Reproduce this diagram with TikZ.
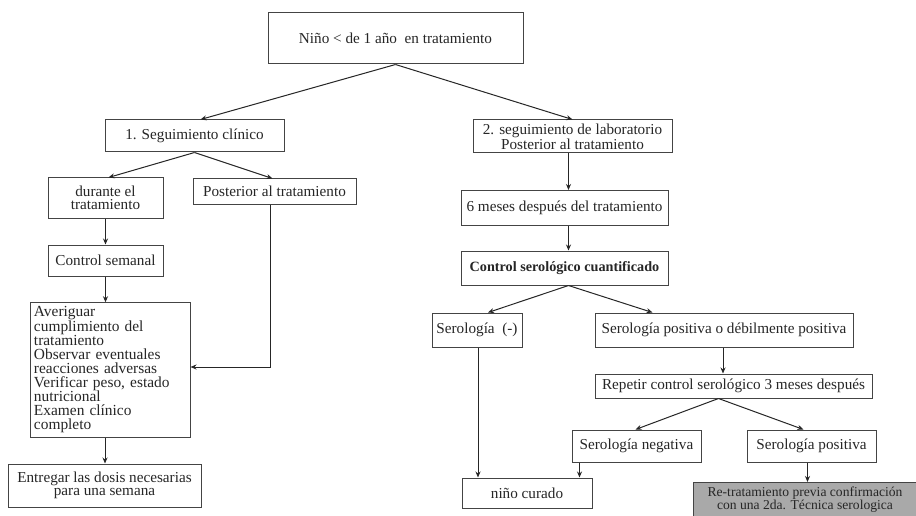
\documentclass[tikz,border=0pt]{standalone}
\usepackage{fontspec}
\setmainfont{Liberation Serif}
\usetikzlibrary{arrows.meta}
\definecolor{ink}{HTML}{262626}
\definecolor{boxline}{HTML}{444444}
\definecolor{grayfill}{HTML}{A9A9A9}
\begin{document}
\begin{tikzpicture}[x=1pt,y=-1pt,
  every node/.style={font=\fontsize{15.2}{13.5}\selectfont, text=ink},
  box/.style={draw=boxline, line width=1pt, rectangle, inner sep=3pt, align=center},
  arr/.style={draw=ink, line width=1pt, -{Stealth[length=6pt,width=5pt]}}]
\clip (0,0) rectangle (916,516);
\fill[white] (0,0) rectangle (916,516);
% left branch
\node[box, minimum width=255pt, minimum height=51pt] (top) at (395.5,38.5) {Niño < de 1 año \ en tratamiento};
\node[box, minimum width=179pt, minimum height=32pt] (clin) at (194.5,136) {1. Seguimiento clínico};
\node[box, minimum width=115pt, minimum height=40pt] (dur) at (105.5,198) {durante el\\tratamiento};
\node[box, minimum width=163pt, minimum height=25pt] (post) at (274.5,191.5) {Posterior al tratamiento};
\node[box, minimum width=115pt, minimum height=31pt] (sem) at (105.5,260.5) {Control semanal};
\node[box, align=left, text width=152pt, inner sep=4pt, minimum height=134pt, font=\fontsize{15.4}{14}\selectfont] (big) at (110,370) {Averiguar\\cumplimiento del\\tratamiento\\Observar eventuales\\reacciones adversas\\Verificar peso, estado\\nutricional\\Examen clínico\\completo};
\node[box, minimum width=193pt, minimum height=43pt] (ent) at (104.5,485.5) {Entregar las dosis necesarias\\para una semana};
% right branch
\node[box, minimum width=199pt, minimum height=33pt, font=\fontsize{15.2}{13}\selectfont] (lab) at (572.5,136.5) {2. seguimiento de laboratorio\\Posterior al tratamiento};
\node[box, minimum width=207pt, minimum height=35pt] (mes) at (564.5,208) {6 meses después del tratamiento};
\node[box, minimum width=207pt, minimum height=34pt, font=\fontsize{14.2}{13.5}\selectfont\bfseries] (ctrl) at (564.5,268) {Control serológico cuantificado};
\node[box, minimum width=90pt, minimum height=34pt] (smin) at (477,330) {Serología \ (-)};
\node[box, minimum width=258pt, minimum height=34pt] (spd) at (724,330) {Serología positiva o débilmente positiva};
\node[box, minimum width=277pt, minimum height=24pt] (rep) at (733.5,386) {Repetir control serológico 3 meses después};
\node[box, minimum width=129pt, minimum height=32pt] (sneg) at (636.5,446) {Serología negativa};
\node[box, minimum width=129pt, minimum height=32pt] (spos) at (811.5,446) {Serología positiva};
\node[box, minimum width=130pt, minimum height=30pt] (cur) at (527,493) {niño curado};
\node[box, fill=grayfill, minimum width=230pt, minimum height=40pt, anchor=north west] (ret) at (693,482) {};
\node[font=\fontsize{13.6}{12}\selectfont, align=center] (rettext) at (805,499.5) {Re-tratamiento previa confirmación\\con una 2da. Técnica serologica};
% connectors
\draw[arr] (top.south) -- ([xshift=6pt]clin.north);
\draw[arr] (top.south) -- (lab.north);
\draw[arr] (clin.south) -- ([xshift=3pt]dur.north);
\draw[arr] (clin.south) -- ([xshift=-2pt]post.north);
\draw[arr] (dur.south) -- (sem.north);
\draw[arr] (sem.south) -- (sem.south |- big.north);
\draw[arr] ([xshift=-4pt]post.south) |- ([yshift=3pt]big.east);
\draw[arr] ([xshift=-5pt]big.south) -- ([xshift=-5pt]big.south |- ent.north);
\draw[arr] ([xshift=-4pt]lab.south) -- ([xshift=-4pt]lab.south |- mes.north);
\draw[arr] ([xshift=4pt]mes.south) -- ([xshift=4pt]mes.south |- ctrl.north);
\draw[arr] ([xshift=4pt]ctrl.south) -- ([xshift=11pt]smin.north);
\draw[arr] ([xshift=4pt]ctrl.south) -- ([xshift=58pt]spd.north west);
\draw[arr] ([xshift=-1pt]spd.south) -- ([xshift=-1pt]spd.south |- rep.north);
\draw[arr] ([xshift=-15pt]rep.south) -- ([xshift=-1pt]sneg.north);
\draw[arr] ([xshift=-15pt]rep.south) -- ([xshift=-8pt]spos.north);
\draw[arr] ([xshift=1pt]smin.south) -- ([xshift=1pt]smin.south |- cur.north);
\draw[arr] ([xshift=8pt]sneg.south west) -- ([xshift=8pt]sneg.south west |- cur.north);
\draw[arr] ([xshift=-4pt]spos.south) -- ([xshift=-4pt]spos.south |- ret.north);
\end{tikzpicture}
\end{document}
